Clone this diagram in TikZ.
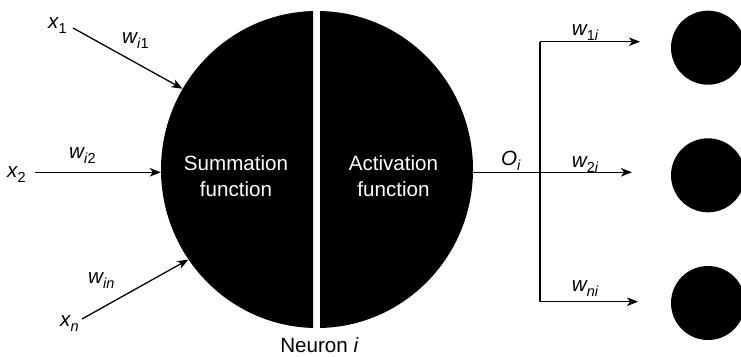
\documentclass[tikz,border=0pt]{standalone}
\usepackage{fontspec}
\setmainfont{Liberation Sans}
\usetikzlibrary{arrows.meta,shapes.geometric}

% symbol with a lowered, smaller index
\newcommand{\symsub}[2]{{\itshape #1}\raisebox{-5pt}{\fontsize{14.5}{14.5}\selectfont #2}}

\begin{document}
\begin{tikzpicture}[x=1pt,y=-1pt,
    every node/.style={font=\fontsize{20.6}{25.3}\selectfont, inner sep=2pt},
    lbl/.style={anchor=base west, inner sep=0pt},
    wire/.style={line width=1.3pt},
    arr/.style={wire, -{Stealth[length=11pt,width=8.5pt,inset=3pt]}},
    inlbl/.style={text=white, align=center},
    outcell/.style={circle, fill=black, minimum size=74pt, inner sep=0pt}]
  \useasboundingbox (0,0) rectangle (741,356);

  % neuron body, split into two halves
  \node[ellipse, minimum width=312pt, minimum height=317pt, inner sep=0pt] (neuron) at (317,169.5) {};
  \begin{scope}
    \clip (0,0) rectangle (313,356);
    \fill (317,169.5) ellipse [x radius=156, y radius=158.5];
  \end{scope}
  \begin{scope}
    \clip (320,0) rectangle (741,356);
    \fill (317,169.5) ellipse [x radius=156, y radius=158.5];
  \end{scope}

  \node[inlbl] (sum) at (236,176) {Summation\\function};
  \node[inlbl] (act) at (393.5,176) {Activation\\function};
  \node[anchor=base, inner sep=0pt] (name) at (319.5,352) {Neuron \textit{i}};

  % inputs
  \node[lbl] (x1) at (48,28) {\symsub{x}{1}};
  \node[lbl] (x2) at (7,177) {\symsub{x}{2}};
  \node[lbl] (xn) at (60,326.7) {\symsub{x}{\textit{n}}};
  \node[lbl] (wi1) at (122,43) {\symsub{w}{\textit{i}1}};
  \node[lbl] (wi2) at (69,158) {\symsub{w}{\textit{i}2}};
  \node[lbl] (win) at (88,283) {\symsub{w}{\textit{in}}};

  \coordinate (in1) at (73,28);
  \coordinate (in2) at (35,172.3);
  \coordinate (inn) at (82,319);
  \draw[arr] (in1) -- (neuron.149);
  \draw[arr] (in2) -- (in2 -| neuron.west);
  \draw[arr] (inn) -- (neuron.215);

  % output and its branches
  \coordinate (split) at (540,172.3);
  \coordinate (top) at (540,41.7);
  \coordinate (bot) at (540,301.7);
  \coordinate (t1) at (640,41.7);
  \coordinate (t2) at (632,172.3);
  \coordinate (t3) at (638,301.7);

  \node[lbl] (oi) at (501,165) {\symsub{O}{\textit{i}}};
  \node[lbl] (w1i) at (571.7,35) {\symsub{w}{1\textit{i}}};
  \node[lbl] (w2i) at (571.7,167) {\symsub{w}{2\textit{i}}};
  \node[lbl] (wni) at (571.7,291.7) {\symsub{w}{\textit{ni}}};

  \draw[wire] (split -| neuron.east) -- (split);
  \draw[wire] (top) -- (bot);
  \draw[arr] (top) -- (t1);
  \draw[arr] (split) -- (t2);
  \draw[arr] (bot) -- (t3);

  % receiving neurons
  \node[outcell] (c1) at (708,47.7) {};
  \node[outcell] (c2) at (708,175.3) {};
  \node[outcell] (c3) at (708,303) {};
\end{tikzpicture}
\end{document}
